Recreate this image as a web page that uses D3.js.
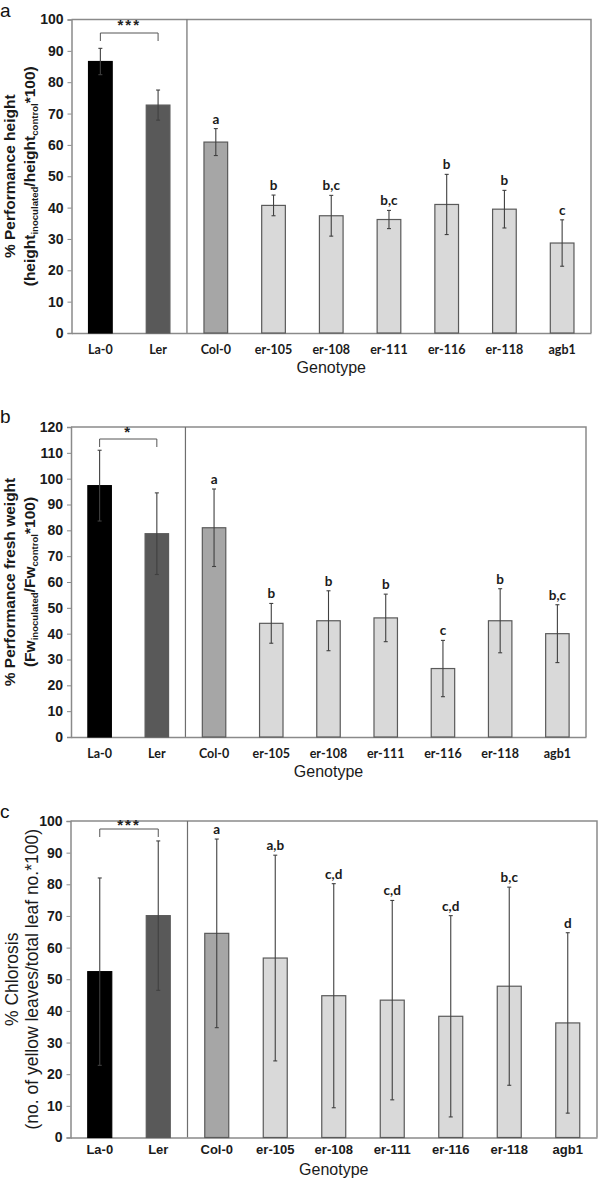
<!DOCTYPE html>
<html><head><meta charset="utf-8">
<script src="https://cdn.jsdelivr.net/npm/d3@7"></script>
<style>body{margin:0;background:#fff}svg{display:block}</style>
</head><body>
<svg id="chart" width="600" height="1178"></svg>
<script>
// ---- data ----
const categories = ["La-0","Ler","Col-0","er-105","er-108","er-111","er-116","er-118","agb1"];
const barColors = ["#000000","#595959","#a6a6a6","#d9d9d9","#d9d9d9","#d9d9d9","#d9d9d9","#d9d9d9","#d9d9d9"];

const heightMean = [86.6,72.7,60.9,40.7,37.4,36.2,41.0,39.5,28.7];
const heightErr  = [4.2,4.8,4.3,3.3,6.5,2.9,9.6,6.0,7.4];
const heightLetters = ["","","a","b","b,c","b,c","b","b","c"];
const heightSig = "***";
const heightTicks = [0,10,20,30,40,50,60,70,80,90,100];

const weightMean = [97.3,78.7,81.0,44.0,45.0,46.1,26.5,45.0,40.0];
const weightErr  = [13.7,15.8,15.0,7.7,11.6,9.2,10.9,12.4,11.2];
const weightLetters = ["","","a","b","b","b","c","b","b,c"];
const weightSig = "*";
const weightTicks = [0,10,20,30,40,50,60,70,80,90,100,110,120];

const chloroMean = [52.4,70.1,64.5,56.7,44.8,43.4,38.3,47.8,36.2];
const chloroErr  = [29.6,23.6,29.8,32.5,35.4,31.5,31.8,31.3,28.5];
const chloroLetters = ["","","a","a,b","c,d","c,d","c,d","b,c","d"];
const chloroSig = "***";
const chloroTicks = [0,10,20,30,40,50,60,70,80,90,100];

const svg = d3.select("#chart");
const ARIAL = "'Liberation Sans', Arial, sans-serif";
const CAL = "Lato, 'Open Sans', sans-serif";

function panel(o){
  const g = svg.append("g");
  const x = d3.scaleBand().domain(categories).range([o.left,o.right]).paddingInner(0.59).paddingOuter(0.295);
  const y = d3.scaleLinear().domain([0,o.ymax]).range([o.bottom,o.top]);
  const frame = "#8a8a8a";
  g.append("path").attr("d",`M${o.left},${o.top}H${o.right}V${o.bottom}`).attr("fill","none").attr("stroke",frame).attr("stroke-width",1.5);
  const xd = (x("Ler")+x.bandwidth()+x("Col-0"))/2;
  g.append("line").attr("x1",xd).attr("x2",xd).attr("y1",o.top).attr("y2",o.bottom).attr("stroke","#6e6e6e").attr("stroke-width",1.2);
  const ya = g.append("g").attr("transform",`translate(${o.left},0)`)
    .call(d3.axisLeft(y).tickValues(o.ticks).tickSize(4).tickPadding(4).tickFormat(d3.format("d")));
  ya.select(".domain").attr("stroke",frame).attr("stroke-width",1.5);
  ya.selectAll(".tick line").attr("stroke",frame);
  ya.selectAll("text").attr("font-family",ARIAL).attr("font-weight","bold").attr("font-size",14).attr("fill","#1a1a1a");
  const xa = g.append("g").attr("transform",`translate(0,${o.bottom})`)
    .call(d3.axisBottom(x).tickSize(0).tickPadding(o.catPad));
  xa.select(".domain").attr("stroke",frame).attr("stroke-width",1.5);
  xa.selectAll("text").attr("font-family",o.catFont).attr("font-weight","bold").attr("font-size",o.catSize).attr("fill","#1a1a1a");
  g.selectAll("rect.bar").data(categories).join("rect")
    .attr("x",d=>x(d)).attr("width",x.bandwidth())
    .attr("y",(d,i)=>y(o.mean[i])).attr("height",(d,i)=>y(0)-y(o.mean[i]))
    .attr("fill",(d,i)=>barColors[i]).attr("stroke",(d,i)=>i===0?"#000":"#5a5a5a").attr("stroke-width",1.2);
  const eb = g.selectAll("g.eb").data(categories).join("g");
  eb.append("line").attr("x1",d=>x(d)+x.bandwidth()/2).attr("x2",d=>x(d)+x.bandwidth()/2)
    .attr("y1",(d,i)=>y(o.mean[i]+o.err[i])).attr("y2",(d,i)=>y(o.mean[i]-o.err[i]))
    .attr("stroke","#404040").attr("stroke-width",1.1);
  [1,-1].forEach(s=>{
    eb.append("line").attr("x1",d=>x(d)+x.bandwidth()/2-2).attr("x2",d=>x(d)+x.bandwidth()/2+2)
      .attr("y1",(d,i)=>y(o.mean[i]+s*o.err[i])).attr("y2",(d,i)=>y(o.mean[i]+s*o.err[i]))
      .attr("stroke","#404040").attr("stroke-width",1.1);
  });
  g.selectAll("text.let").data(categories).join("text")
    .attr("x",d=>x(d)+x.bandwidth()/2).attr("y",(d,i)=>y(o.mean[i]+o.err[i])-5)
    .attr("text-anchor","middle").attr("font-family",CAL).attr("font-weight","bold").attr("font-size",13.5)
    .attr("fill","#1a1a1a").text((d,i)=>o.letters[i]);
  const x1 = x("La-0")+x.bandwidth()/2, x2 = x("Ler")+x.bandwidth()/2;
  g.append("path").attr("d",`M${x1},${o.brY+8}V${o.brY}H${x2}V${o.brY+8}`).attr("fill","none").attr("stroke","#555").attr("stroke-width",1);
  g.append("text").attr("x",(x1+x2)/2).attr("y",o.brY+o.sigDy).attr("text-anchor","middle")
    .attr("font-family",ARIAL).attr("font-weight","bold").attr("font-size",15).attr("letter-spacing",2).attr("fill","#222").text(o.sig);
  g.append("text").attr("x",(o.left+o.right)/2).attr("y",o.genY).attr("text-anchor","middle")
    .attr("font-family",ARIAL).attr("font-size",16).attr("fill","#1a1a1a").text("Genotype");
  const cy = (o.top+o.bottom)/2;
  g.append("text").attr("transform",`translate(${o.t1x},${cy}) rotate(-90)`).attr("text-anchor","middle")
    .attr("font-family",ARIAL).attr("font-weight",o.tWeight).attr("font-size",o.t1Size).attr("fill","#1a1a1a").text(o.title1);
  const t2 = g.append("text").attr("transform",`translate(${o.t2x},${cy}) rotate(-90)`).attr("text-anchor","middle")
    .attr("font-family",ARIAL).attr("font-weight",o.tWeight).attr("font-size",o.t2Size).attr("fill","#1a1a1a");
  o.title2.forEach(p=>{
    const ts = t2.append("tspan").text(p.t);
    if(p.sub){ ts.attr("font-size",o.t2Size*0.62).attr("dy",3); }
    else if(p.after){ ts.attr("dy",-3); }
  });
  svg.append("text").attr("x",0).attr("y",o.letterY).attr("font-family",ARIAL).attr("font-size",19).attr("fill","#111").text(o.letter);
}

panel({letter:"a",letterY:17,top:19.5,bottom:333,left:71.5,right:591,ymax:100,ticks:heightTicks,
  mean:heightMean,err:heightErr,letters:heightLetters,sig:heightSig,brY:33,sigDy:-3,
  catFont:CAL,catSize:12.5,catPad:12,genY:373,
  t1x:15,t2x:35,t1Size:15.5,t2Size:15.5,tWeight:"bold",
  title1:"% Performance height",
  title2:[{t:"(height"},{t:"inoculated",sub:true},{t:"/height",after:true},{t:"control",sub:true},{t:"*100)",after:true}]});

panel({letter:"b",letterY:423,top:427,bottom:737,left:71,right:586,ymax:120,ticks:weightTicks,
  mean:weightMean,err:weightErr,letters:weightLetters,sig:weightSig,brY:439,sigDy:-2,
  catFont:CAL,catSize:12.5,catPad:12,genY:777,
  t1x:15,t2x:35,t1Size:15.5,t2Size:15.5,tWeight:"bold",
  title1:"% Performance fresh weight",
  title2:[{t:"(Fw"},{t:"inoculated",sub:true},{t:"/Fw",after:true},{t:"control",sub:true},{t:"*100)",after:true}]});

panel({letter:"c",letterY:818,top:821,bottom:1137.5,left:70.5,right:597,ymax:100,ticks:chloroTicks,
  mean:chloroMean,err:chloroErr,letters:chloroLetters,sig:chloroSig,brY:829,sigDy:1,
  catFont:ARIAL,catSize:13,catPad:7,genY:1175,
  t1x:18,t2x:38,t1Size:17.5,t2Size:17.5,tWeight:"normal",
  title1:"% Chlorosis",
  title2:[{t:"(no. of yellow leaves/total leaf no.*100)"}]});
</script>
</body></html>
